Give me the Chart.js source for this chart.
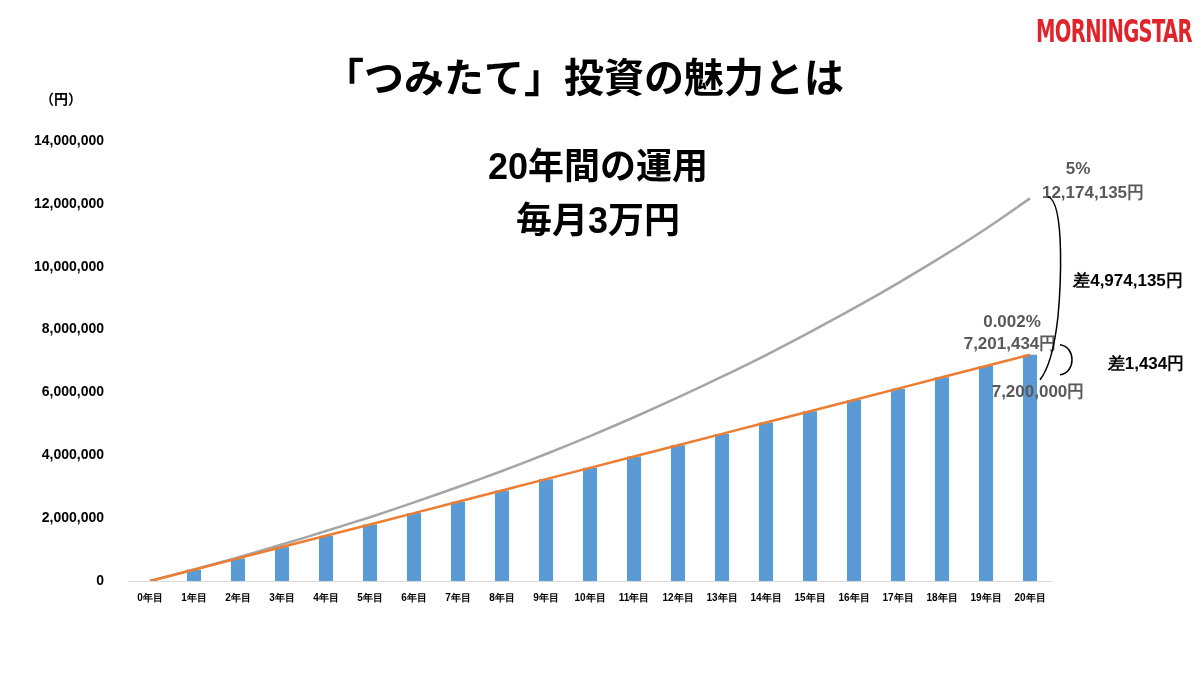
<!DOCTYPE html>
<html><head><meta charset="utf-8">
<script src="https://cdn.jsdelivr.net/npm/chart.js@4"></script>
<style>
body{margin:0;width:1200px;height:675px;background:#fff;position:relative;overflow:hidden;font-family:"Noto Sans CJK JP",sans-serif}
.t{position:absolute;font-weight:bold;color:#000;white-space:nowrap;transform:translateX(-50%)}
#wrap{position:absolute;left:0;top:0;width:1200px;height:675px}
</style></head><body>
<div id="wrap"><canvas id="c" width="1200" height="675"></canvas></div>
<div class="t" style="left:584px;top:46px;font-size:40px">「つみたて」投資の魅力とは</div>
<div class="t" style="left:598px;top:140px;font-size:36px;line-height:54px;text-align:center;font-family:'Liberation Sans','Noto Sans CJK JP',sans-serif">20年間の運用<br>毎月3万円</div>
<div style="position:absolute;left:40px;top:88px;font-size:14px;font-weight:bold">（円）</div>
<div style="position:absolute;left:1036px;top:12px;font-family:'Liberation Sans Narrow','DejaVu Sans Condensed',sans-serif;font-weight:bold;font-size:32px;color:#e0242b;transform:scaleX(0.68);transform-origin:left top;letter-spacing:-1px">MORNINGSTAR</div>
<script>
const years = ["0年目","1年目","2年目","3年目","4年目","5年目","6年目","7年目","8年目","9年目","10年目","11年目","12年目","13年目","14年目","15年目","16年目","17年目","18年目","19年目","20年目"];
const principal = [0,360000,720000,1080000,1440000,1800000,2160000,2520000,2880000,3240000,3600000,3960000,4320000,4680000,5040000,5400000,5760000,6120000,6480000,6840000,7200000];
const lowRate = [0,360004,720014,1080030,1440051,1800078,2160111,2520150,2880194,3240244,3600300,3960361,4320428,4680500,5040578,5400662,5760751,6120846,6480946,6841052,7201434];
const highRate = [0,370000,750000,1160000,1590000,2030000,2500000,2990000,3500000,4040000,4610000,5210000,5840000,6500000,7190000,7920000,8680000,9480000,10320000,11210000,12174135];

const notes = {
  id: "notes",
  afterDraw(chart) {
    const c = chart.ctx, x = chart.scales.x, y = chart.scales.y;
    const xe = x.getPixelForValue(20), yh = y.getPixelForValue(12174135), yl = y.getPixelForValue(7200000);
    c.save();
    c.font = "bold 17px 'Liberation Sans',Arial";
    c.textAlign = "center";
    c.fillStyle = "#595959";
    c.fillText("5%", xe + 48, yh - 24);
    c.fillText("12,174,135円", xe + 63, yh + 0);
    c.fillText("0.002%", xe - 18, yl - 28);
    c.fillText("7,201,434円", xe - 20, yl - 6);
    c.fillText("7,200,000円", xe + 8, yl + 42);
    c.fillStyle = "#000";
    c.fillText("差4,974,135円", xe + 98, yh + 88);
    c.fillText("差1,434円", xe + 116, yl + 14);
    c.strokeStyle = "#000"; c.lineWidth = 1.5;
    c.beginPath();
    c.moveTo(xe + 18, yh - 2);
    c.bezierCurveTo(xe + 36, yh + 5, xe + 30, yl - 60, xe + 28, (yh + yl) / 2 + 40);
    c.bezierCurveTo(xe + 26, yl - 20, xe + 22, yl + 10, xe + 10, yl + 25);
    c.stroke();
    c.beginPath();
    c.moveTo(xe + 30, yl - 10);
    c.bezierCurveTo(xe + 46, yl - 8, xe + 46, yl + 18, xe + 30, yl + 20);
    c.stroke();
    c.restore();
  }
};

new Chart(document.getElementById("c"), {
  data: {
    labels: years,
    datasets: [
      {type: "line", data: highRate, borderColor: "#a5a5a5", borderWidth: 2.5, pointRadius: 0, tension: 0.3, order: 1},
      {type: "line", data: lowRate, borderColor: "#ed7d31", borderWidth: 2.5, pointRadius: 0, order: 0},
      {type: "bar", data: principal, backgroundColor: "#5b9bd5", barPercentage: 0.32, categoryPercentage: 1, order: 2}
    ]
  },
  options: {
    responsive: false, animation: false,
    layout: {padding: {left: 20, top: 141, right: 148, bottom: 68}},
    plugins: {legend: {display: false}, tooltip: {enabled: false}},
    scales: {
      x: {grid: {display: false}, border: {color: "#d9d9d9"},
          ticks: {color: "#000", font: {size: 10, weight: "bold"}, maxRotation: 0, autoSkip: false}},
      y: {min: 0, max: 14000000, grid: {display: false}, border: {display: false},
          afterFit(s) { s.width = 108; },
          ticks: {stepSize: 2000000, color: "#000", padding: 16, font: {size: 14, weight: "bold", family: "'Liberation Sans',Arial"},
                  callback: v => v.toLocaleString("en-US")}}
    }
  },
  plugins: [notes]
});
</script>
</body></html>
